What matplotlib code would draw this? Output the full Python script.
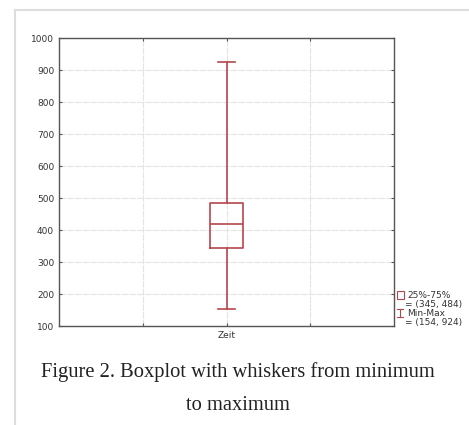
import matplotlib.pyplot as plt
from matplotlib.patches import Rectangle
from matplotlib.lines import Line2D

# box statistics for "Zeit"
label = "Zeit"
q1, q3 = 345, 484
median = 420
lo, hi = 154, 924
yticks = [100, 200, 300, 400, 500, 600, 700, 800, 900, 1000]

red = '#b5474e'

fig = plt.figure(figsize=(4.69, 4.25), dpi=100)
ax = fig.add_axes([59/469, 1 - 326/425, (394 - 59)/469, (326 - 38)/425])

stats = [dict(med=median, q1=q1, q3=q3, whislo=lo, whishi=hi, label=label)]
ax.bxp(stats, positions=[2], widths=0.4, showfliers=False,
       boxprops=dict(color=red, lw=1.2),
       medianprops=dict(color=red, lw=1.2),
       whiskerprops=dict(color=red, lw=1.2),
       capprops=dict(color=red, lw=1.2), capwidths=0.2)

ax.set_xlim(0, 4)
ax.set_ylim(100, 1000)
ax.set_yticks(yticks)
ax.set_xticks([1, 2, 3])
ax.set_xticklabels(['', label, ''])
ax.grid(True, color='#e4e4e4', lw=0.8, ls=(0, (6, 1)))
ax.set_axisbelow(True)
ax.tick_params(direction='in', length=2, labelsize=6.5, colors='#555555',
               labelcolor='#333333', top=True, right=True)
for s in ax.spines.values():
    s.set_color('#555555')
    s.set_linewidth(1.0)

# legend drawn by hand to the right of the axes
def fx(x):
    return x / 469
def fy(y):
    return 1 - y / 425

fig.patches.append(Rectangle((fx(397), fy(299)), 7/469, 8/425, transform=fig.transFigure,
                             fill=False, ec=red, lw=0.8))
fig.lines.append(Line2D([fx(400), fx(400)], [fy(309), fy(317)], transform=fig.transFigure, color=red, lw=0.8))
fig.lines.append(Line2D([fx(397), fx(403)], [fy(309), fy(309)], transform=fig.transFigure, color=red, lw=0.8))
fig.lines.append(Line2D([fx(397), fx(403)], [fy(317), fy(317)], transform=fig.transFigure, color=red, lw=0.8))
leg = dict(fontsize=6.5, color='#333333', va='center', ha='left')
fig.text(fx(407), fy(295), "25%-75%", **leg)
fig.text(fx(405), fy(304), "= (%d, %d)" % (q1, q3), **leg)
fig.text(fx(407), fy(313), "Min-Max", **leg)
fig.text(fx(405), fy(322), "= (%d, %d)" % (lo, hi), **leg)

# page frame
fig.lines.append(Line2D([fx(15), 1], [fy(10), fy(10)], transform=fig.transFigure, color='#dddddd', lw=1.5))
fig.lines.append(Line2D([fx(15), fx(15)], [fy(10), 0], transform=fig.transFigure, color='#dddddd', lw=1.5))

cap = dict(fontsize=14.8, family='Liberation Serif', ha='center', va='center', color='#222222')
fig.text(fx(238), fy(372), "Figure 2. Boxplot with whiskers from minimum", **cap)
fig.text(fx(238), fy(405), "to maximum", **cap)

fig.savefig('out.png', dpi=100)
